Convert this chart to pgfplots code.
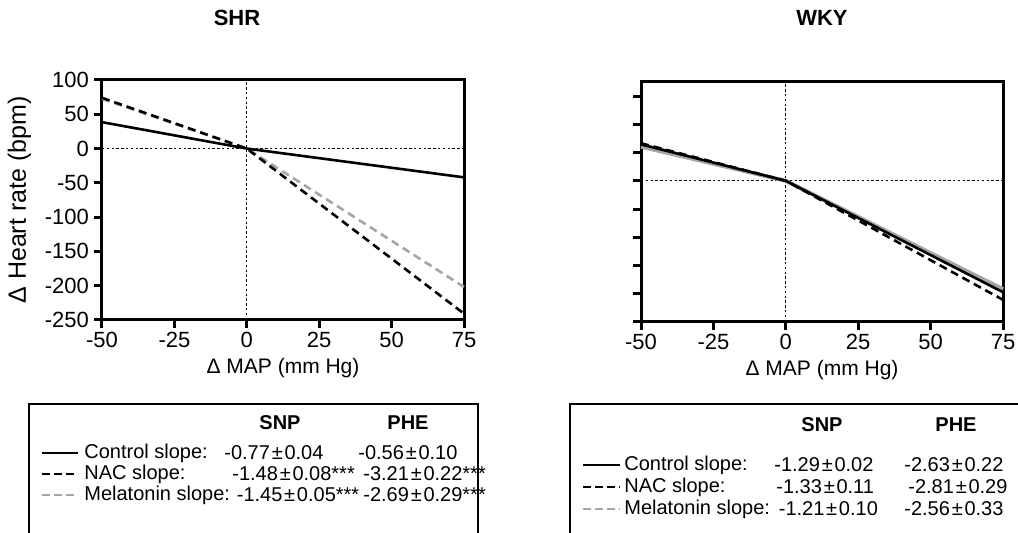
\documentclass[border=0pt]{standalone}
\usepackage{fontspec}
\setmainfont{Liberation Sans}
\usepackage{pgfplots}
\pgfplotsset{compat=1.18}
\definecolor{melgray}{RGB}{165,165,165}

\tikzset{
  ctrl/.style={black, line width=1.3pt},
  nac/.style={black, line width=1.3pt, dash pattern=on 4pt off 2.5pt},
  mel/.style={melgray, line width=1.3pt, dash pattern=on 4pt off 2.5pt},
  refl/.style={black, line width=0.55pt, dash pattern=on 1.2pt off 1.2pt},
}
\newcommand{\pmv}{\kern0.9pt±\kern0.9pt}
\pgfplotsset{
  hrpanel/.style={
    scale only axis,
    width=181pt, height=120pt,
    xmin=-50, xmax=75,
    xtick={-50,-25,0,25,50,75},
    axis line style={line width=1.5pt},
    every tick/.style={line width=1.5pt, black},
    tick align=outside,
    major tick length=4pt,
    xtick pos=left, ytick pos=left,
    tick label style={font=\fontsize{11}{13}\selectfont},
    yticklabel style={xshift=1pt},
    xticklabel style={yshift=1.5pt},
    /pgf/number format/assume math mode=true,
    xlabel style={font=\fontsize{10.5}{12}\selectfont,
      at={(axis description cs:0.5,0)}, anchor=center, yshift=-24pt},
    ylabel style={font=\fontsize{12.5}{14}\selectfont},
    clip=false,
  },
}

\begin{document}
\begin{tikzpicture}
\path[use as bounding box] (0,0) rectangle (509pt,266.5pt);

% ---------- SHR ----------
\begin{axis}[hrpanel,
  at={(51pt,106.5pt)}, anchor=south west,
  ymin=-250, ymax=100,
  ytick={-250,-200,...,100},
  xlabel={Δ MAP (mm Hg)},
  ylabel={Δ Heart rate (bpm)},
]
\addplot[refl] coordinates {(-50,0) (75,0)};
\addplot[refl] coordinates {(0,-250) (0,100)};
\addplot[mel] coordinates {(-50,72.5) (0,0) (75,-201.75)};
\addplot[nac] coordinates {(-50,74) (0,0) (75,-240.75)};
\addplot[ctrl] coordinates {(-50,38.5) (0,0) (75,-42)};
\end{axis}

% ---------- WKY ----------
\begin{axis}[hrpanel,
  at={(320.5pt,105.5pt)}, anchor=south west,
  ymin=-250, ymax=175,
  ytick={-250,-200,...,150},
  yticklabels={},
  xlabel={Δ MAP (mm Hg)},
]
\addplot[refl] coordinates {(-50,0) (75,0)};
\addplot[refl] coordinates {(0,-250) (0,175)};
\addplot[melgray, line width=2pt] coordinates {(-50,60.5) (0,0) (75,-192)};
\addplot[nac] coordinates {(-50,66.5) (0,0) (75,-210.75)};
\addplot[ctrl] coordinates {(-50,64.5) (0,0) (75,-197.25)};
\end{axis}

% titles
\node[font=\bfseries\fontsize{11}{13}\selectfont] at (118.5pt,257.5pt) {SHR};
\node[font=\bfseries\fontsize{11}{13}\selectfont] at (411pt,257.5pt) {WKY};

% ---------- slope tables ----------
\begin{scope}[font=\fontsize{10}{12}\selectfont]
\draw[line width=1.4pt] (14.5pt,-10pt) rectangle (239pt,64.5pt);
\node[font=\bfseries\fontsize{10}{12}\selectfont] at (140pt,55pt) {SNP};
\node[font=\bfseries\fontsize{10}{12}\selectfont] at (204pt,55pt) {PHE};
\draw[ctrl] (21pt,40pt) -- (39pt,40pt);
\draw[nac, dash pattern=on 4pt off 2pt] (21pt,29.5pt) -- (39pt,29.5pt);
\draw[mel, dash pattern=on 4pt off 2pt] (21pt,19pt) -- (39pt,19pt);
\node[anchor=west, inner sep=0] at (42pt,40pt) {Control slope:};
\node[anchor=west, inner sep=0] at (42pt,29.5pt) {NAC slope:};
\node[anchor=west, inner sep=0] (m1) at (42pt,19pt) {Melatonin slope:};
\node[anchor=west, inner sep=0] at (112pt,40pt) {-0.77\pmv0.04};
\node[anchor=west, inner sep=0] at (116pt,29.5pt) {-1.48\pmv0.08***};
\node[anchor=west, inner sep=0] at ([xshift=3pt]m1.east) {-1.45\pmv0.05***};
\node[anchor=west, inner sep=0] at (179pt,40pt) {-0.56\pmv0.10};
\node[anchor=west, inner sep=0] at (181.5pt,29.5pt) {-3.21\pmv0.22***};
\node[anchor=west, inner sep=0] at (181.5pt,19pt) {-2.69\pmv0.29***};

\draw[line width=1.4pt] (285pt,-10pt) rectangle (520pt,64.5pt);
\node[font=\bfseries\fontsize{10}{12}\selectfont] at (411pt,54pt) {SNP};
\node[font=\bfseries\fontsize{10}{12}\selectfont] at (478pt,54pt) {PHE};
\draw[ctrl] (291.5pt,34pt) -- (310pt,34pt);
\draw[nac, dash pattern=on 4pt off 2pt] (291.5pt,23pt) -- (310pt,23pt);
\draw[mel, dash pattern=on 4pt off 2pt] (291.5pt,12pt) -- (310pt,12pt);
\node[anchor=west, inner sep=0] at (312pt,34pt) {Control slope:};
\node[anchor=west, inner sep=0] at (312pt,23pt) {NAC slope:};
\node[anchor=west, inner sep=0] (m2) at (312pt,12pt) {Melatonin slope:};
\node[anchor=west, inner sep=0] at (387pt,34pt) {-1.29\pmv0.02};
\node[anchor=west, inner sep=0] at (388pt,23pt) {-1.33\pmv0.11};
\node[anchor=west, inner sep=0] at ([xshift=4pt]m2.east) {-1.21\pmv0.10};
\node[anchor=west, inner sep=0] at (452pt,34pt) {-2.63\pmv0.22};
\node[anchor=west, inner sep=0] at (454pt,23pt) {-2.81\pmv0.29};
\node[anchor=west, inner sep=0] at (452pt,12pt) {-2.56\pmv0.33};
\end{scope}
\end{tikzpicture}
\end{document}
